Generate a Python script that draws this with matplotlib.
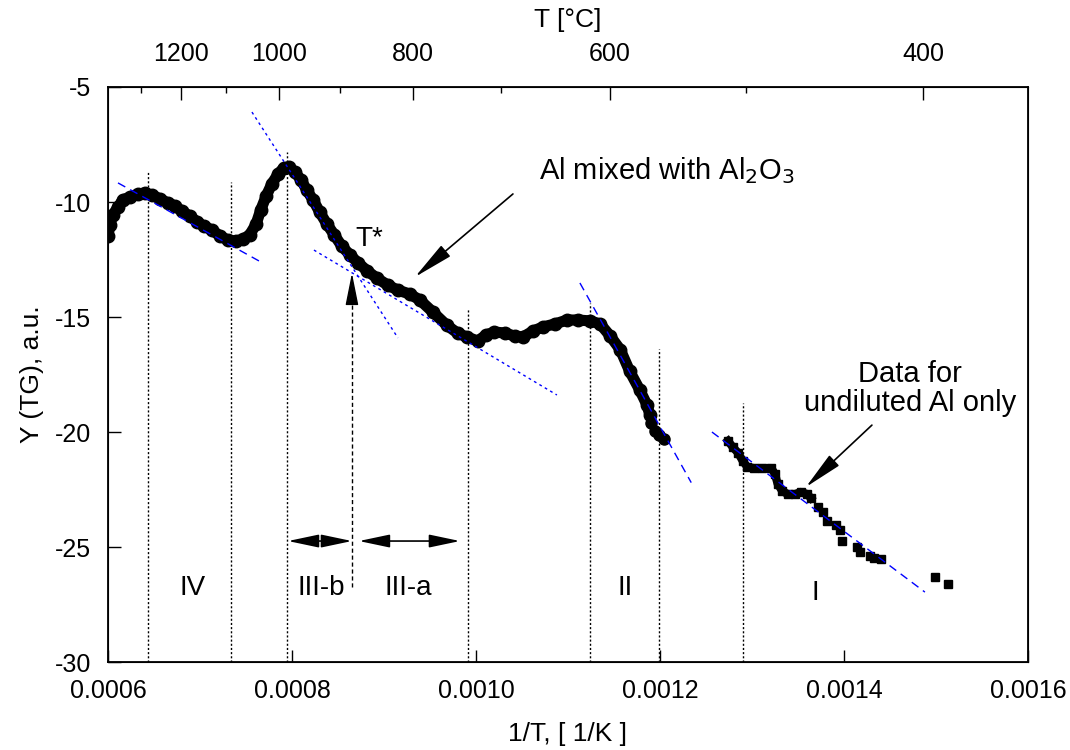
import matplotlib
matplotlib.use("Agg")
import matplotlib.pyplot as plt
import numpy as np

plt.rcParams['font.family'] = ['Liberation Sans', 'DejaVu Sans']
plt.rcParams['axes.unicode_minus'] = False

# Al mixed with Al2O3 (dense part)
mixed_x = [0.000600, 0.000602, 0.000605, 0.000611, 0.000616, 0.000624, 0.000633, 0.000640,
           0.000648, 0.000657, 0.000665, 0.000673, 0.000680, 0.000689, 0.000697, 0.000704,
           0.000713, 0.000722, 0.000730, 0.000739, 0.000747, 0.000754, 0.000761, 0.000766,
           0.000772, 0.000778, 0.000785, 0.000791, 0.000797, 0.000803, 0.000810, 0.000816,
           0.000823, 0.000830, 0.000838, 0.000846, 0.000854, 0.000863, 0.000872, 0.000882,
           0.000892, 0.000904, 0.000915, 0.000928, 0.000939, 0.000953, 0.000968, 0.000980,
           0.000990, 0.001002, 0.001011, 0.001020, 0.001032, 0.001042, 0.001051, 0.001062,
           0.001073, 0.001086, 0.001099, 0.001111, 0.001124, 0.001135, 0.001146, 0.001157,
           0.001167, 0.001178, 0.001186, 0.001189]
mixed_y = [-11.48, -11.00, -10.57, -10.22, -9.91, -9.78, -9.65, -9.61,
           -9.70, -9.87, -10.04, -10.17, -10.39, -10.61, -10.87, -11.04,
           -11.22, -11.48, -11.65, -11.70, -11.61, -11.43, -10.96, -10.35,
           -9.74, -9.22, -8.78, -8.52, -8.48, -8.70, -9.04, -9.48,
           -9.91, -10.43, -10.96, -11.43, -11.91, -12.30, -12.65, -13.00,
           -13.30, -13.61, -13.83, -14.00, -14.26, -14.78, -15.35, -15.70,
           -15.87, -16.04, -15.78, -15.65, -15.70, -15.83, -15.87, -15.61,
           -15.43, -15.30, -15.13, -15.13, -15.17, -15.30, -15.83, -16.43,
           -17.35, -18.17, -18.83, -19.26]
# last separate points of the mixed sample
mixed_tail_x = [0.001190, 0.001195, 0.001199, 0.001204]
mixed_tail_y = [-19.61, -19.96, -20.13, -20.30]

# undiluted Al
undil_x = [0.001274, 0.001279, 0.001285, 0.001290, 0.001295, 0.001302, 0.001311, 0.001321,
           0.001325, 0.001328, 0.001333, 0.001339, 0.001347, 0.001353, 0.001360, 0.001364]
undil_y = [-20.39, -20.65, -20.91, -21.26, -21.52, -21.57, -21.57, -21.57,
           -21.83, -22.26, -22.57, -22.70, -22.70, -22.61, -22.70, -22.87]
undil_sq_x = [0.001372, 0.001377, 0.001382, 0.001391, 0.001396, 0.001398, 0.001414,
              0.001417, 0.001428, 0.001433, 0.001440, 0.001499, 0.001513]
undil_sq_y = [-23.26, -23.48, -23.87, -24.04, -24.26, -24.74, -25.00,
              -25.22, -25.39, -25.48, -25.52, -26.30, -26.61]

# linear fits per region: (x0, y0, x1, y1)
fit_IV = (0.0006109, -9.17, 0.0007663, -12.61)
fit_IIIb = (0.0007565, -6.09, 0.0009152, -15.91)
fit_IIIa = (0.0008239, -12.09, 0.0010880, -18.39)
fit_II = (0.0011130, -13.52, 0.0012340, -22.20)
fit_I = (0.0012565, -20.00, 0.0014880, -26.96)

# region boundaries (x, top of line)
bound_x = [0.0006435, 0.0007337, 0.0007946, 0.0009913, 0.0011239, 0.0011989, 0.0012902]
bound_top = [-8.70, -9.13, -7.83, -14.61, -14.39, -16.39, -18.74]
t_star_x = 0.0008652

region_names = ['IV', 'III-b', 'III-a', 'II', 'I']
region_x = [0.0006924, 0.0008315, 0.0009261, 0.0011620, 0.0013685]
region_y = [-26.78, -26.78, -26.78, -26.78, -27.0]

top_major_c = [1200, 1000, 800, 600, 400]
top_minor_c = [1300, 1100, 900, 700, 500]

fig = plt.figure(figsize=(10.7, 7.5), dpi=100)
ax = fig.add_axes([0.1009, 0.1173, 0.8598, 0.7667])

ax.plot(mixed_x, mixed_y, '-o', color='black', lw=8, ms=9, solid_capstyle='round',
        solid_joinstyle='round', zorder=3)
ax.plot(mixed_tail_x, mixed_tail_y, 'o', color='black', ms=8, zorder=3)
ax.plot(undil_x, undil_y, '-s', color='black', lw=6, ms=6, zorder=3)
ax.plot(undil_sq_x, undil_sq_y, 's', color='black', ms=6, zorder=3)

for f in (fit_IV, fit_II, fit_I):
    ax.plot([f[0], f[2]], [f[1], f[3]], color='#0000ff', lw=1, ls=(0, (6, 4)), zorder=4)
for f in (fit_IIIb, fit_IIIa):
    ax.plot([f[0], f[2]], [f[1], f[3]], color='#0000ff', lw=1, ls=(0, (2, 2.5)), zorder=4)

ax.vlines(bound_x, -30, bound_top, colors='black', lw=1, linestyles=(0, (1.5, 1.5)), zorder=2)
ax.vlines([t_star_x], -26.74, -14.26, colors='black', lw=1, linestyles=(0, (3, 2)), zorder=2)

for name, x, y in zip(region_names, region_x, region_y):
    ax.text(x, y, name, fontsize=20, ha='center', va='center')

# double arrows for III-b / III-a
for x0, x1 in [(0.0007957, 0.0008652), (0.0008728, 0.0009826)]:
    ax.annotate('', xy=(x1, -24.74), xytext=(x0, -24.74),
                arrowprops=dict(arrowstyle='<|-|>,head_length=0.95,head_width=0.2',
                                mutation_scale=20, color='black', lw=1.2,
                                shrinkA=0, shrinkB=0))

# T* marker
ax.annotate('', xy=(t_star_x, -13.09), xytext=(t_star_x, -14.26),
            arrowprops=dict(arrowstyle='-|>,head_length=1.0,head_width=0.2',
                            mutation_scale=20, color='black', lw=1, shrinkA=0, shrinkB=0))
ax.text(0.0008837, -11.61, 'T*', fontsize=20, ha='center', va='center')

ax.annotate('', xy=(0.0009337, -13.26), xytext=(0.0010402, -9.65),
            arrowprops=dict(arrowstyle='-|>,head_length=1.25,head_width=0.22',
                            mutation_scale=20, color='black', lw=1.2, shrinkA=0, shrinkB=0))
ax.text(0.0012076, -8.65, 'Al mixed with Al$_2$O$_3$', fontsize=21, ha='center', va='center')

ax.annotate('', xy=(0.0013587, -22.39), xytext=(0.0014304, -19.70),
            arrowprops=dict(arrowstyle='-|>,head_length=1.2,head_width=0.22',
                            mutation_scale=20, color='black', lw=1.2, shrinkA=0, shrinkB=0))
ax.text(0.0014717, -18.09, 'Data for\nundiluted Al only', fontsize=21, ha='center',
        va='center', linespacing=1.05)

ax.set_xlim(0.0006, 0.0016)
ax.set_ylim(-30, -5)
ax.set_xticks(np.arange(0.0006, 0.00161, 0.0002))
ax.set_xticklabels(['%.4f' % v for v in np.arange(0.0006, 0.00161, 0.0002)])
ax.set_yticks(np.arange(-30, -4, 5))
ax.tick_params(direction='in', length=9, width=1, labelsize=18, pad=12,
               top=False, right=False)
ax.set_xlabel('1/T, [ 1/K ]', fontsize=19, labelpad=14)
ax.set_ylabel('Y (TG), a.u.', fontsize=19, labelpad=8)
for s in ax.spines.values():
    s.set_linewidth(1.3)

top = ax.twiny()
top.set_xlim(ax.get_xlim())
top.set_xticks([1 / (t + 273) for t in top_major_c])
top.set_xticklabels([str(t) for t in top_major_c])
top.set_xticks([1 / (t + 273) for t in top_minor_c], minor=True)
top.tick_params(which='major', direction='in', length=9, width=1, labelsize=18, pad=15)
top.tick_params(which='minor', direction='in', length=4, width=1)
top.set_xlabel('T [°C]', fontsize=19, labelpad=11)

fig.savefig('out.png', dpi=100)
